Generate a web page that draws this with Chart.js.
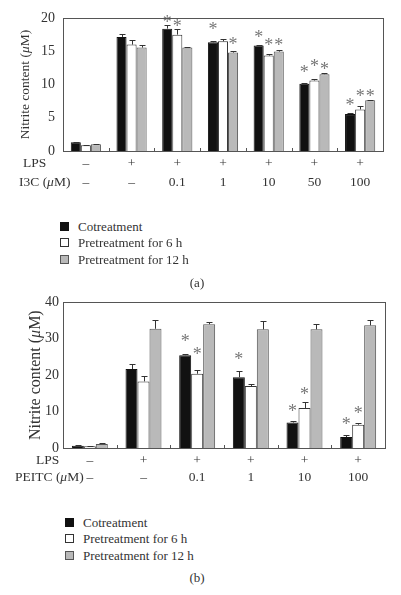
<!DOCTYPE html>
<html>
<head>
<meta charset="utf-8">
<script src="https://cdn.jsdelivr.net/npm/chart.js@4.4.1/dist/chart.umd.min.js"></script>
<style>
  body { margin: 0; width: 401px; height: 595px; position: relative; overflow: hidden; background: #fff;
         font-family: 'Liberation Serif', 'DejaVu Serif', serif; color: #333; }
  canvas { position: absolute; left: 0; }
  .leg { position: absolute; font-size: 13px; line-height: 16px; white-space: nowrap; }
  .leg i { display: inline-block; width: 7px; height: 7px; border: 1px solid #333; vertical-align: 0px; }
  .cap { position: absolute; width: 40px; font-size: 13px; line-height: 16px; text-align: center; }
</style>
</head>
<body>
<canvas id="chartA" width="401" height="200" style="top:0"></canvas>
<canvas id="chartB" width="401" height="200" style="top:290px"></canvas>
<script>
// ---- dati ----
const seriesNames = ['Cotreatment', 'Pretreatment for 6 h', 'Pretreatment for 12 h'];

// (a) I3C
const lpsA = ['–', '+', '+', '+', '+', '+', '+'];
const i3cA = ['–', '–', '0.1', '1', '10', '50', '100'];
const coA = [1.3, 17.15, 18.4, 16.35, 15.85, 10.1, 5.55];
const coErrA = [0.1, 0.45, 0.5, 0.15, 0.15, 0.2, 0.15];
const pre6A = [0.85, 16.0, 17.5, 16.5, 14.35, 10.6, 6.25];
const pre6ErrA = [0.05, 0.75, 0.8, 0.35, 0.25, 0.2, 0.55];
const pre12A = [1.0, 15.55, 15.55, 14.8, 14.95, 11.55, 7.65];
const pre12ErrA = [0.05, 0.35, 0.1, 0.25, 0.2, 0.15, 0.05];
// altezza degli asterischi (null = nessuno)
const coStarA = [null, null, 19.65, 18.65, 17.4, 12.1, 7.25];
const pre6StarA = [null, null, 19.05, null, 16.2, 13.1, 8.55];
const pre12StarA = [null, null, null, 16.3, 16.2, 12.6, 8.55];
const yTicksA = [0, 5, 10, 15, 20];

// (b) PEITC
const lpsB = ['–', '+', '+', '+', '+', '+'];
const peitcB = ['–', '–', '0.1', '1', '10', '100'];
const coB = [0.65, 21.7, 25.5, 19.45, 7.0, 3.0];
const coErrB = [0.2, 1.3, 0.45, 1.75, 0.55, 0.65];
const pre6B = [0.45, 18.3, 20.4, 17.0, 11.0, 6.4];
const pre6ErrB = [0.1, 1.4, 1.1, 0.45, 1.65, 0.55];
const pre12B = [1.1, 32.75, 34.0, 32.6, 32.6, 33.7];
const pre12ErrB = [0.2, 2.3, 0.6, 2.3, 1.4, 1.4];
const coStarB = [null, null, 29.9, 25.0, 10.65, 7.0];
const pre6StarB = [null, null, 26.4, null, 15.4, 10.2];
const pre12StarB = [null, null, null, null, null, null];
const yTicksB = [0, 10, 20, 30, 40];

// ---- stile ----
const FONT = "'Liberation Serif', 'DejaVu Serif', serif";
const TXT = '#333';
const fills = ['#111111', '#ffffff', '#b9b9b9'];
const edges = ['#111111', '#333333', '#555555'];

// barre di errore, asterischi, cornice, titoli
const extras = {
  id: 'extras',
  afterDatasetsDraw(chart) {
    const ctx = chart.ctx, y = chart.scales.y;
    ctx.save();
    chart.data.datasets.forEach((ds, i) => {
      chart.getDatasetMeta(i).data.forEach((bar, j) => {
        const x = Math.round(bar.x) + 0.5;
        const top = Math.round(y.getPixelForValue(ds.data[j] + ds.err[j])) + 0.5;
        ctx.strokeStyle = '#333'; ctx.lineWidth = 1;
        ctx.beginPath();
        ctx.moveTo(x, bar.y); ctx.lineTo(x, top);
        ctx.moveTo(x - 3, top); ctx.lineTo(x + 3, top);
        ctx.stroke();
        if (ds.stars[j] != null) {
          ctx.fillStyle = '#777'; ctx.font = '18px ' + FONT;
          ctx.textAlign = 'center'; ctx.textBaseline = 'middle';
          ctx.fillText('*', bar.x, y.getPixelForValue(ds.stars[j]) + 3);
        }
      });
    });
    ctx.restore();
  },
  afterDraw(chart, args, o) {
    const ctx = chart.ctx, a = chart.chartArea, xs = chart.scales.x;
    ctx.save();
    // cornice
    ctx.strokeStyle = '#555'; ctx.lineWidth = 1;
    ctx.strokeRect(Math.round(a.left) + 0.5, Math.round(a.top) + 0.5, Math.round(a.right - a.left), Math.round(a.bottom - a.top));
    // tacche tra i gruppi
    ctx.beginPath();
    for (let i = 1; i < chart.data.labels.length; i++) {
      const bx = Math.round((xs.getPixelForValue(i - 1) + xs.getPixelForValue(i)) / 2) + 0.5;
      ctx.moveTo(bx, a.bottom); ctx.lineTo(bx, a.bottom - 3);
    }
    ctx.stroke();
    // testo con mu corsivo
    const parts = (pre) => [[pre, ''], ['μ', 'italic '], ['M)', '']];
    const drawParts = (ps, size, x0, y0) => {
      let x = x0;
      ps.forEach(([t, st]) => { ctx.font = st + size + 'px ' + FONT; ctx.fillText(t, x, y0); x += ctx.measureText(t).width; });
    };
    const widthOf = (ps, size) => ps.reduce((w, [t, st]) => { ctx.font = st + size + 'px ' + FONT; return w + ctx.measureText(t).width; }, 0);
    ctx.fillStyle = TXT; ctx.textAlign = 'left'; ctx.textBaseline = 'middle';
    // titolo asse y
    const yt = parts('Nitrite content (');
    ctx.save();
    ctx.translate(o.titleX, (a.top + a.bottom) / 2);
    ctx.rotate(-Math.PI / 2);
    drawParts(yt, o.titleSize, -widthOf(yt, o.titleSize) / 2, 0);
    ctx.restore();
    // titoli delle righe sotto l'asse x
    const r0 = a.bottom + o.pad + o.lh / 2;
    drawParts([['LPS', '']], 13.5, o.rowX[0], r0);
    drawParts(parts(o.drug + ' ('), 13.5, o.rowX[1], r0 + o.lh);
    ctx.restore();
  }
};

function makeChart(id, cfg) {
  const ds = cfg.values.map((v, k) => ({
    label: seriesNames[k], data: v, err: cfg.errs[k], stars: cfg.stars[k],
    backgroundColor: fills[k], borderColor: edges[k], borderWidth: 1,
    categoryPercentage: cfg.catPct, barPercentage: 1,
  }));
  return new Chart(document.getElementById(id), {
    type: 'bar',
    data: { labels: cfg.rows[0].map((v, i) => [v, cfg.rows[1][i]]), datasets: ds },
    plugins: [extras],
    options: {
      responsive: false, animation: false,
      layout: { padding: { left: 0, right: cfg.right, top: cfg.top, bottom: 0 } },
      plugins: {
        legend: { display: false }, tooltip: { enabled: false },
        extras: { titleX: cfg.titleX, titleSize: cfg.titleSize, rowX: cfg.rowX, drug: cfg.drug, pad: cfg.pad, lh: cfg.lh },
      },
      scales: {
        x: {
          grid: { display: false, drawTicks: false }, border: { display: false },
          ticks: { color: TXT, padding: cfg.pad, font: { family: FONT, size: 13.5, lineHeight: cfg.lh / 13.5 }, maxRotation: 0, autoSkip: false },
          afterFit: (s) => { s.height = cfg.xh; },
        },
        y: {
          min: 0, max: cfg.yTicks[cfg.yTicks.length - 1],
          afterBuildTicks: (s) => { s.ticks = cfg.yTicks.map((v) => ({ value: v })); },
          grid: { display: false, drawTicks: false }, border: { display: false },
          ticks: { color: TXT, padding: cfg.ypad, font: { family: FONT, size: 14 } },
          afterFit: (s) => { s.width = 63; },
        },
      },
    },
  });
}

makeChart('chartA', {
  values: [coA, pre6A, pre12A], errs: [coErrA, pre6ErrA, pre12ErrA], stars: [coStarA, pre6StarA, pre12StarA],
  rows: [lpsA, i3cA], yTicks: yTicksA, drug: 'I3C',
  catPct: 0.66, right: 18, top: 18, xh: 49, pad: 2.8, lh: 19, ypad: 8,
  titleX: 25, titleSize: 13.5, rowX: [23, 19],
});
makeChart('chartB', {
  values: [coB, pre6B, pre12B], errs: [coErrB, pre6ErrB, pre12ErrB], stars: [coStarB, pre6StarB, pre12StarB],
  rows: [lpsB, peitcB], yTicks: yTicksB, drug: 'PEITC',
  catPct: 0.67, right: 16, top: 12, xh: 42, pad: 3.8, lh: 17, ypad: 4,
  titleX: 36, titleSize: 16, rowX: [36, 15],
});

// legende e didascalie
function legend(x, ys, cap, capY) {
  seriesNames.forEach((n, k) => {
    const d = document.createElement('div');
    d.className = 'leg';
    d.style.left = x + 'px'; d.style.top = (ys[k] - 8) + 'px';
    d.innerHTML = '<i style="background:' + fills[k] + ';border-color:' + edges[k] + '"></i>';
    const s = document.createElement('span');
    s.textContent = n; s.style.marginLeft = '9px';
    d.appendChild(s);
    document.body.appendChild(d);
  });
  const c = document.createElement('div');
  c.className = 'cap'; c.textContent = cap;
  c.style.left = '177px'; c.style.top = (capY - 8) + 'px';
  document.body.appendChild(c);
}
legend(60, [227, 243, 260], '(a)', 283);
legend(65, [523, 539, 556], '(b)', 578);
</script>
</body>
</html>
